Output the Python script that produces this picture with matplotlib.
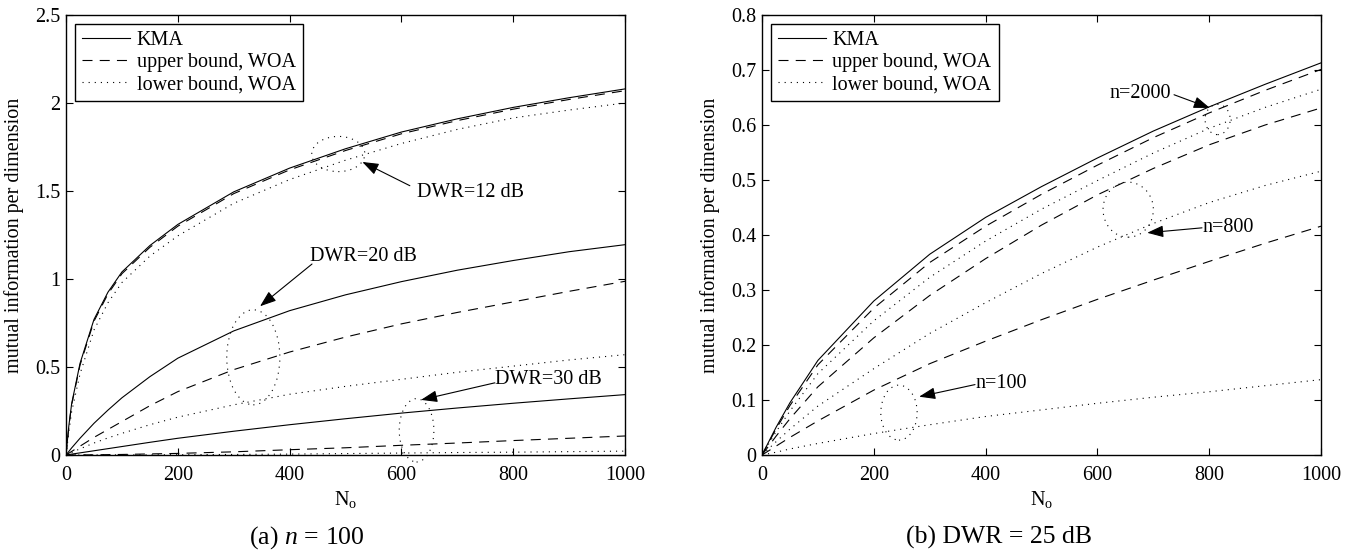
import numpy as np
import matplotlib
matplotlib.use('Agg')
import matplotlib.pyplot as plt
from matplotlib.patches import Ellipse
from matplotlib.ticker import FuncFormatter

plt.rcParams['font.family'] = ['Liberation Serif', 'DejaVu Serif']
plt.rcParams['mathtext.fontset'] = 'custom'
plt.rcParams['mathtext.rm'] = 'Liberation Serif'
plt.rcParams['mathtext.it'] = 'Liberation Serif:italic'

# (a) n = 100, three DWR values
No_a = [0, 5, 10, 25, 50, 75, 100, 150, 200, 300, 400, 500, 600, 700, 800, 900, 1000]
kma_12 = [0, 0.165, 0.29, 0.52, 0.77, 0.925, 1.04, 1.19, 1.31, 1.495, 1.63, 1.74, 1.835, 1.91, 1.975, 2.03, 2.08]
ub_12 = [0, 0.16, 0.285, 0.51, 0.76, 0.915, 1.03, 1.18, 1.30, 1.485, 1.62, 1.73, 1.825, 1.90, 1.965, 2.02, 2.07]
lb_12 = [0, 0.13, 0.245, 0.46, 0.71, 0.865, 0.98, 1.13, 1.245, 1.43, 1.565, 1.675, 1.77, 1.85, 1.915, 1.96, 2.0]
kma_20 = [0, 0.02, 0.04, 0.095, 0.18, 0.255, 0.325, 0.445, 0.55, 0.705, 0.82, 0.91, 0.985, 1.05, 1.105, 1.155, 1.195]
ub_20 = [0, 0.01, 0.02, 0.05, 0.10, 0.145, 0.19, 0.28, 0.36, 0.485, 0.585, 0.67, 0.745, 0.81, 0.87, 0.93, 0.987]
lb_20 = [0, 0.007, 0.014, 0.035, 0.068, 0.097, 0.123, 0.172, 0.215, 0.285, 0.345, 0.39, 0.43, 0.47, 0.505, 0.54, 0.57]
kma_30 = [0, 0.0025, 0.005, 0.012, 0.024, 0.036, 0.048, 0.072, 0.095, 0.135, 0.172, 0.206, 0.238, 0.267, 0.294, 0.319, 0.343]
ub_30 = [0, 0, 0, 0.0005, 0.001, 0.002, 0.003, 0.006, 0.009, 0.018, 0.030, 0.041, 0.055, 0.068, 0.082, 0.095, 0.108]
lb_30 = [0, 0, 0, 0, 0.0002, 0.0004, 0.0006, 0.001, 0.0015, 0.003, 0.005, 0.008, 0.011, 0.014, 0.016, 0.019, 0.022]

# (b) DWR = 25 dB, three values of n
No_b = [0, 25, 50, 100, 200, 300, 400, 500, 600, 700, 800, 900, 1000]
kma_b = [0, 0.05, 0.095, 0.172, 0.28, 0.365, 0.432, 0.488, 0.54, 0.589, 0.633, 0.674, 0.713]
ub_2000 = [0, 0.047, 0.09, 0.164, 0.267, 0.35, 0.416, 0.474, 0.527, 0.577, 0.622, 0.663, 0.701]
lb_2000 = [0, 0.042, 0.08, 0.148, 0.244, 0.323, 0.389, 0.447, 0.499, 0.549, 0.594, 0.632, 0.665]
ub_800 = [0, 0.034, 0.066, 0.124, 0.213, 0.29, 0.357, 0.418, 0.473, 0.521, 0.564, 0.6, 0.631]
lb_800 = [0, 0.024, 0.047, 0.089, 0.157, 0.221, 0.277, 0.33, 0.378, 0.421, 0.459, 0.49, 0.516]
ub_100 = [0, 0.016, 0.032, 0.062, 0.118, 0.166, 0.207, 0.246, 0.283, 0.318, 0.352, 0.385, 0.416]
lb_100 = [0, 0.005, 0.011, 0.021, 0.039, 0.055, 0.07, 0.082, 0.094, 0.105, 0.115, 0.126, 0.137]

legend_labels = ['KMA', 'upper bound, WOA', 'lower bound, WOA']

SOLID = '-'
DASHED = (0, (9, 6.5))
DOTTED = (0, (1, 4.5))
LW = 0.8


def setup_axes(ax, ymax, ystep):
    ax.set_xlim(0, 1000)
    ax.set_ylim(0, ymax)
    ax.set_xticks(range(0, 1001, 200))
    ax.set_yticks(np.arange(0, ymax + 1e-9, ystep))
    ax.yaxis.set_major_formatter(FuncFormatter(lambda v, p: '%g' % round(v, 2)))
    ax.tick_params(direction='in', top=True, right=True, length=5, width=0.8, labelsize=14.5)
    ax.tick_params(axis='x', pad=8)
    ax.tick_params(axis='y', pad=4)
    for s in ax.spines.values():
        s.set_linewidth(1.0)
    ax.set_xlabel(r'$\mathrm{N}_{\mathrm{o}}$', fontsize=14.5, labelpad=3)
    ax.set_ylabel('mutual information per dimension', fontsize=14.5, labelpad=8)


def ring(ax, cx, cy, w, h, clip=True):
    ax.add_patch(Ellipse((cx, cy), w, h, fill=False, ls=DOTTED, lw=LW, color='k', clip_on=clip))


def label(ax, text, pos, tail, tip):
    ax.text(pos[0], pos[1], text, fontsize=14.5, ha='left', va='center')
    ax.annotate('', xy=tip, xytext=tail,
                arrowprops=dict(arrowstyle='-|>,head_length=0.55,head_width=0.2', color='k',
                                lw=0.8, mutation_scale=18, shrinkA=0, shrinkB=0))


def add_legend(ax):
    ax.legend(legend_labels, loc='upper left', fontsize=14.5, frameon=True, fancybox=False,
              edgecolor='k', framealpha=1, borderaxespad=0.45, borderpad=0.35,
              labelspacing=0.15, handlelength=2.4, handletextpad=0.3)


fig = plt.figure(figsize=(13.53, 5.55), dpi=100)
ax1 = fig.add_axes([0.0488, 0.1802, 0.4132, 0.7928])
ax2 = fig.add_axes([0.5632, 0.1802, 0.4132, 0.7928])

# panel (a)
for k, u, l in [(kma_12, ub_12, lb_12), (kma_20, ub_20, lb_20), (kma_30, ub_30, lb_30)]:
    ax1.plot(No_a, k, ls=SOLID, color='k', lw=LW)
    ax1.plot(No_a, u, ls=DASHED, color='k', lw=LW)
    ax1.plot(No_a, l, ls=DOTTED, color='k', lw=LW)
setup_axes(ax1, 2.5, 0.5)
add_legend(ax1)
ring(ax1, 487, 1.71, 95, 0.2)
ring(ax1, 335, 0.555, 95, 0.54)
ring(ax1, 627, 0.14, 62, 0.36, clip=False)
label(ax1, 'DWR=12 dB', (627, 1.49), (615, 1.53), (530, 1.665))
label(ax1, 'DWR=20 dB', (437, 1.13), (440, 1.085), (347, 0.845))
label(ax1, 'DWR=30 dB', (767, 0.43), (767, 0.41), (635, 0.313))

# panel (b)
ax2.plot(No_b, kma_b, ls=SOLID, color='k', lw=LW)
for u, l in [(ub_2000, lb_2000), (ub_800, lb_800), (ub_100, lb_100)]:
    ax2.plot(No_b, u, ls=DASHED, color='k', lw=LW)
    ax2.plot(No_b, l, ls=DOTTED, color='k', lw=LW)
setup_axes(ax2, 0.8, 0.1)
add_legend(ax2)
ring(ax2, 815, 0.61, 45, 0.055)
ring(ax2, 655, 0.446, 90, 0.1)
ring(ax2, 245, 0.077, 65, 0.1)
label(ax2, 'n=2000', (622, 0.658), (737, 0.655), (801, 0.631))
label(ax2, 'n=800', (787, 0.413), (787, 0.413), (689, 0.404))
label(ax2, 'n=100', (381, 0.13), (381, 0.128), (281, 0.106))

fig.text(0.227, 0.032, r'(a) $n\,=\,100$', fontsize=18.5, ha='center', va='center')
fig.text(0.738, 0.032, '(b) DWR = 25 dB', fontsize=18.5, ha='center', va='center')

fig.savefig('out.png', dpi=100)
